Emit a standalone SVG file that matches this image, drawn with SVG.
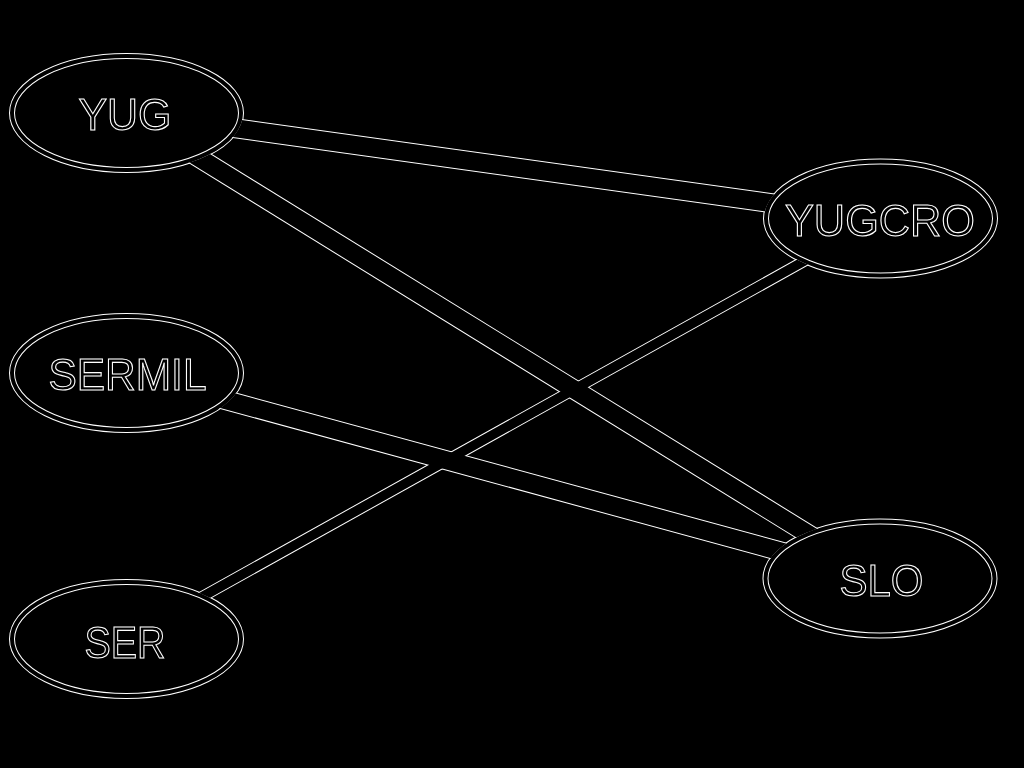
<svg xmlns="http://www.w3.org/2000/svg" width="1024" height="768" viewBox="0 0 1024 768">
<style>
.ro{fill:none;stroke:#fff;stroke-width:6}
.ri{fill:none;stroke:#000;stroke-width:4}
.lbl{font-family:"Liberation Sans",Arial,sans-serif;font-size:44px;fill:#000;stroke:#fff;stroke-width:1.1;text-anchor:middle;opacity:0.999}
.w{stroke:#fff;fill:none}
.b{stroke:#000;fill:none}
.w.thick{stroke-width:20}
.b.thick{stroke-width:18}
.w.thin{stroke-width:11.5}
.b.thin{stroke-width:9.5}
</style>
<defs>
<mask id="hole" maskUnits="userSpaceOnUse" x="0" y="0" width="1024" height="768">
<rect width="1024" height="768" fill="#fff"/>
<ellipse cx="126.5" cy="113" rx="116.5" ry="59" fill="#000"/>
<ellipse cx="880.5" cy="218.5" rx="116.5" ry="59" fill="#000"/>
<ellipse cx="126.5" cy="373" rx="116.5" ry="59" fill="#000"/>
<ellipse cx="880" cy="578.5" rx="116.5" ry="59" fill="#000"/>
<ellipse cx="126.5" cy="639" rx="116.5" ry="59" fill="#000"/>
</mask>
<line id="e1" x1="126.5" y1="113" x2="880.5" y2="218.5"/>
<line id="e2" x1="126.5" y1="113" x2="880" y2="578.5"/>
<line id="e3" x1="126.5" y1="373" x2="880" y2="578.5"/>
<line id="e4" x1="880.5" y1="218.5" x2="126.5" y2="639"/>
</defs>
<rect width="1024" height="768" fill="#000"/>
<g id="node-YUG">
<ellipse class="ro" cx="126.5" cy="113" rx="114.5" ry="57"/>
<ellipse class="ri" cx="126.5" cy="113" rx="114.5" ry="57"/>
<text class="lbl" x="125" y="130" textLength="93" lengthAdjust="spacingAndGlyphs">YUG</text>
</g>
<g id="node-YUGCRO">
<ellipse class="ro" cx="880.5" cy="218.5" rx="114.5" ry="57"/>
<ellipse class="ri" cx="880.5" cy="218.5" rx="114.5" ry="57"/>
<text class="lbl" x="880" y="236" textLength="190" lengthAdjust="spacingAndGlyphs">YUGCRO</text>
</g>
<g id="node-SERMIL">
<ellipse class="ro" cx="126.5" cy="373" rx="114.5" ry="57"/>
<ellipse class="ri" cx="126.5" cy="373" rx="114.5" ry="57"/>
<text class="lbl" x="127.5" y="389.5" textLength="158" lengthAdjust="spacingAndGlyphs">SERMIL</text>
</g>
<g id="node-SLO">
<ellipse class="ro" cx="880" cy="578.5" rx="114.5" ry="57"/>
<ellipse class="ri" cx="880" cy="578.5" rx="114.5" ry="57"/>
<text class="lbl" x="881.5" y="596" textLength="84" lengthAdjust="spacingAndGlyphs">SLO</text>
</g>
<g id="node-SER">
<ellipse class="ro" cx="126.5" cy="639" rx="114.5" ry="57"/>
<ellipse class="ri" cx="126.5" cy="639" rx="114.5" ry="57"/>
<text class="lbl" x="125" y="657.5" textLength="81" lengthAdjust="spacingAndGlyphs">SER</text>
</g>
<g id="connectors" mask="url(#hole)">
<g id="connector-outlines">
<use href="#e1" class="w thick"/>
<use href="#e2" class="w thick"/>
<use href="#e3" class="w thick"/>
<use href="#e4" class="w thin"/>
</g>
<g id="connector-cores">
<use href="#e1" class="b thick"/>
<use href="#e2" class="b thick"/>
<use href="#e3" class="b thick"/>
<use href="#e4" class="b thin"/>
</g>
</g>
</svg>
